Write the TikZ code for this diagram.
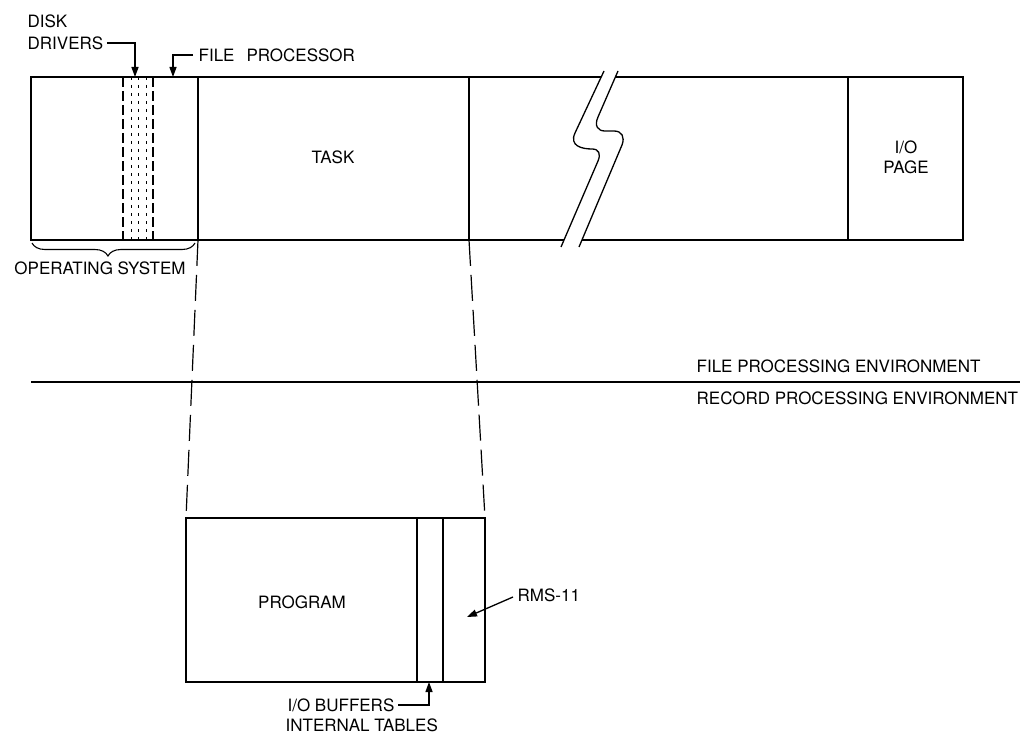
\documentclass[tikz,border=0pt]{standalone}
\usepackage{fontspec}
\setmainfont{TeX Gyre Heros}
\usetikzlibrary{arrows.meta,decorations.pathreplacing}
\begin{document}
\begin{tikzpicture}[x=1pt,y=-1pt,line width=1.3pt,
  lbl/.style={font=\fontsize{17}{20}\selectfont,inner sep=0pt},
  tip/.style={-{Triangle[length=10pt,width=7pt]}},
  proj/.style={line width=1.2pt,dash pattern=on 26pt off 9pt},
  longdash/.style={line width=1.3pt,dash pattern=on 10pt off 4pt},
  shortdot/.style={line width=1pt,dash pattern=on 3pt off 5pt}]
\useasboundingbox (0,0) rectangle (1025,733);

% ---- top memory map ----
\coordinate (tl) at (31,77);
\coordinate (bl) at (31,240);
\coordinate (tr) at (963,77);
\coordinate (br) at (963,240);
\draw (601,77) -- (tl) -- (bl) -- (564,240);
\draw (616,77) -- (tr) -- (br) -- (582,240);
\draw (198,77) -- (198,240);
\draw (469,77) -- (469,240);
\draw (848,77) -- (848,240);

% break symbol
\draw (604,71) -- (575,133) .. controls (569,146) and (582,149) .. (592,149)
      .. controls (599,149) and (601,154) .. (598,161) -- (561,247);
\draw (618,71) -- (598,117) .. controls (594,126) and (598,131) .. (605,131)
      -- (614,131) .. controls (622,131) and (625,137) .. (622,145) -- (579,247);

% disk drivers region
\draw[longdash] (123,77) -- (123,240);
\draw[shortdot] (131.5,77) -- (131.5,240);
\draw[shortdot] (138.5,77) -- (138.5,240);
\draw[shortdot] (146,77) -- (146,240);
\draw[longdash] (153,77) -- (153,240);

\node[lbl] (task) at (333,157) {TASK};
\node[lbl,align=center] (iopage) at (906,157) {I/O\\PAGE};

% labels with arrows on top
\node[lbl,anchor=west] (disk) at (27,21) {DISK};
\node[lbl,anchor=west] (drivers) at (27,43) {DRIVERS};
\coordinate (ddtip) at (135,77);
\draw[tip] ([xshift=3pt]drivers.east) -| (ddtip);

\node[lbl,anchor=west] (fileproc) at (198,55) {FILE\hspace{12pt}PROCESSOR};
\coordinate (fptip) at (173,77);
\draw[tip] ([xshift=-5pt]fileproc.west) -| (fptip);

% operating system brace
\coordinate (osl) at (32,243);
\coordinate (osr) at (195,243);
\draw[line width=1.1pt,decorate,decoration={brace,mirror,amplitude=13pt,aspect=0.466}] (osl) -- (osr);
\node[lbl] (os) at (100,268) {OPERATING SYSTEM};

% ---- environment separator ----
\coordinate (sepl) at (31,382);
\coordinate (sepr) at (1020,382);
\draw (sepl) -- (sepr);
\node[lbl,anchor=west] (fpe) at (696,366) {FILE PROCESSING ENVIRONMENT};
\node[lbl,anchor=west] (rpe) at (696,398) {RECORD PROCESSING ENVIRONMENT};

% ---- task expansion ----
\coordinate (btl) at (186,518);
\coordinate (btr) at (485,518);
\coordinate (bbr) at (485,682);
\draw (btl) rectangle (bbr);
\draw (417,518) -- (417,682);
\draw (443,518) -- (443,682);

\draw[proj] (198,240) -- (btl);
\draw[proj] (469,240) -- (btr);

\node[lbl] (program) at (302,602) {PROGRAM};
\node[lbl,anchor=west] (rms) at (517,595) {RMS-11};
\coordinate (rmstip) at (467,617);
\draw[tip] ([xshift=-4pt,yshift=-2pt]rms.west) -- (rmstip);

\node[lbl,anchor=east] (iobuf) at (395,705) {I/O BUFFERS};
\node[lbl,anchor=west] (itab) at (285,725) {INTERNAL TABLES};
\coordinate (iotip) at (429,682);
\draw[tip] ([xshift=3pt]iobuf.east) -| (iotip);
\end{tikzpicture}
\end{document}
